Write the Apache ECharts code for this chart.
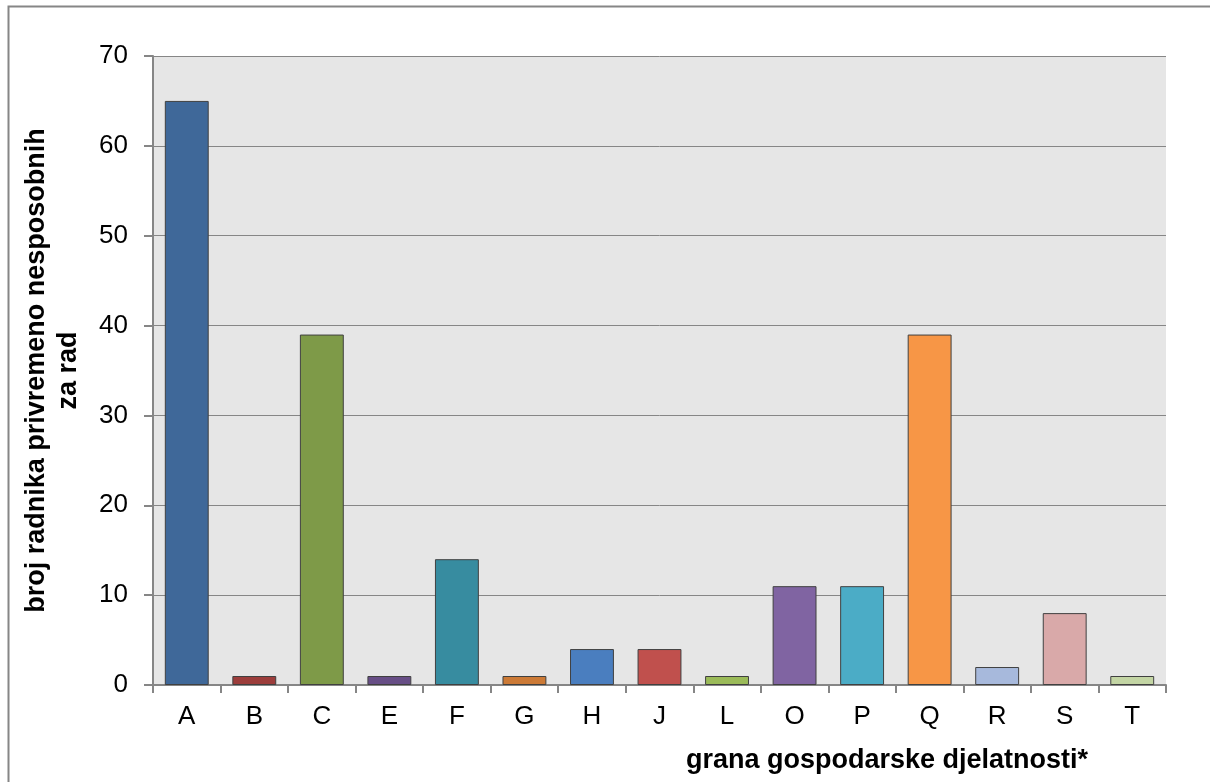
<!DOCTYPE html>
<html><head><meta charset="utf-8">
<script src="https://cdn.jsdelivr.net/npm/echarts@6/dist/echarts.min.js"></script>
<style>html,body{margin:0;padding:0;background:#fff}#c{width:1210px;height:782px}</style>
</head><body><div id="c"></div>
<script>
const categories = ['A','B','C','E','F','G','H','J','L','O','P','Q','R','S','T'];
const values = [65,1,39,1,14,1,4,4,1,11,11,39,2,8,1];
const barColors = ['#3f6899','#9c3d3b','#7e9a48','#674e86','#378ca0','#cc7a36','#4a7ebf','#c0504d','#9bbb59','#8064a2','#4bacc6','#f79646','#a7b9dc','#d9a9a9','#c3d5a4'];
const yTitle = 'broj radnika privremeno nesposobnih\nza rad';
const xTitle = 'grana gospodarske djelatnosti*';

const FF = '"Liberation Sans", Arial, sans-serif';
const chart = echarts.init(document.getElementById('c'), null, {renderer:'canvas'});
chart.setOption({
  animation:false,
  backgroundColor:'#ffffff',
  textStyle:{fontFamily:FF},
  graphic:[{type:'rect',shape:{x:8.5,y:6.5,width:1300,height:900},style:{fill:null,stroke:'#868686',lineWidth:2},silent:true},
    {type:'text',right:122,top:747,style:{text:xTitle,font:'bold 27px ' + FF,fill:'#000'}}],
  grid:{left:153,right:44,top:56,bottom:97,show:true,backgroundColor:'#e6e6e6',borderWidth:0,containLabel:false},
  xAxis:{type:'category',data:categories,
    axisLine:{lineStyle:{color:'#868686',width:2}},
    axisTick:{show:true,alignWithLabel:false,length:8,lineStyle:{color:'#868686',width:2}},
    axisLabel:{color:'#000',fontSize:26,margin:19,fontFamily:FF}},
  yAxis:{type:'value',min:0,max:70,interval:10,
    name:yTitle,nameLocation:'middle',nameGap:68,nameRotate:90,
    nameTextStyle:{fontWeight:'bold',fontSize:27,color:'#000',lineHeight:32,fontFamily:FF},
    axisLine:{show:true,lineStyle:{color:'#868686',width:2}},
    axisTick:{show:true,length:9,lineStyle:{color:'#868686',width:2}},
    axisLabel:{color:'#000',fontSize:26,margin:25,fontFamily:FF},
    splitLine:{show:true,lineStyle:{color:'#868686',width:1,type:'solid'}}},
  series:[{type:'bar',barCategoryGap:'35%',
    data:values.map((v,i)=>({value:v,itemStyle:{color:barColors[i]}})),
    itemStyle:{borderColor:'#404040',borderWidth:1}}]
});
</script></body></html>
